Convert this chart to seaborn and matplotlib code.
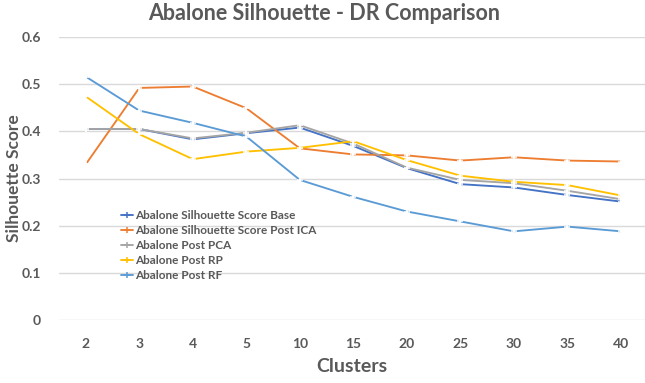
import matplotlib
matplotlib.use("Agg")
import matplotlib.pyplot as plt
from matplotlib.lines import Line2D
import seaborn as sns
import pandas as pd

clusters = ["2", "3", "4", "5", "10", "15", "20", "25", "30", "35", "40"]
base = [0.405, 0.405, 0.383, 0.396, 0.408, 0.369, 0.322, 0.288, 0.281, 0.265, 0.251]
post_ica = [0.330, 0.492, 0.495, 0.449, 0.364, 0.351, 0.349, 0.338, 0.345, 0.338, 0.336]
post_pca = [0.405, 0.405, 0.385, 0.397, 0.413, 0.374, 0.323, 0.297, 0.290, 0.274, 0.256]
post_rp = [0.474, 0.394, 0.341, 0.357, 0.365, 0.379, 0.339, 0.306, 0.293, 0.286, 0.264]
post_rf = [0.516, 0.444, 0.418, 0.389, 0.297, 0.261, 0.230, 0.209, 0.188, 0.198, 0.188]

series_names = ["Abalone Silhouette Score Base", "Abalone Silhouette Score Post ICA",
                "Abalone Post PCA", "Abalone Post RP", "Abalone Post RF"]
series_vals = [base, post_ica, post_pca, post_rp, post_rf]
colors = ["#4472C4", "#ED7D31", "#A5A5A5", "#FFC000", "#5B9BD5"]

rows = []
for name, vals in zip(series_names, series_vals):
    for c, v in zip(clusters, vals):
        rows.append({"Clusters": c, "Score": v, "Series": name})
df = pd.DataFrame(rows)

sns.set_theme(style="white")
plt.rcParams["font.family"] = ["Lato", "DejaVu Sans"]
txt = "#595959"

fig = plt.figure(figsize=(6.45, 3.83), dpi=100)
W, H = 645, 383
ax = fig.add_axes([59 / W, (H - 320) / H, 586 / W, 283 / H])

sns.lineplot(data=df, x="Clusters", y="Score", hue="Series", palette=colors,
             sort=False, marker="+", markersize=4, markeredgewidth=1.1,
             linewidth=1.35, ax=ax, legend=False)

ax.set_xlim(-0.5, 10.45)
ax.set_ylim(0, 0.6)
ax.set_yticks([0, 0.1, 0.2, 0.3, 0.4, 0.5, 0.6])
ax.set_yticklabels(["0", "0.1", "0.2", "0.3", "0.4", "0.5", "0.6"])
ax.yaxis.grid(True, color="#D9D9D9", linewidth=1.0)
ax.set_axisbelow(True)
for s in ax.spines.values():
    s.set_visible(False)
ax.tick_params(axis="both", length=0, colors=txt, labelsize=10)
ax.tick_params(axis="x", pad=13)
ax.tick_params(axis="y", pad=13)
for lab in ax.get_xticklabels() + ax.get_yticklabels():
    lab.set_fontweight("bold")
    lab.set_color(txt)

ax.set_xlabel("Clusters", fontsize=14, fontweight="bold", color=txt, labelpad=6)
ax.set_ylabel("")
fig.text(14 / W, 1 - 178 / H, "Silhouette Score", rotation=90, ha="center", va="center",
         fontsize=12.5, fontweight="bold", color=txt)
fig.text(324 / W, 1 - 14 / H, "Abalone Silhouette - DR Comparison", ha="center", va="center",
         fontsize=15.5, fontweight="bold", color=txt)

handles = [Line2D([0], [0], color=c, linewidth=1.35, marker="+", markersize=4,
                  markeredgewidth=1.1) for c in colors]
leg = ax.legend(handles, series_names, loc="upper left", bbox_to_anchor=(115 / W, 1 - 204 / H),
                bbox_transform=fig.transFigure, frameon=False, fontsize=8.5,
                handlelength=1.0, handletextpad=0.2, labelspacing=0.35, borderpad=0)
for t in leg.get_texts():
    t.set_color(txt)
    t.set_fontweight("bold")

fig.savefig("out.png", dpi=100)
